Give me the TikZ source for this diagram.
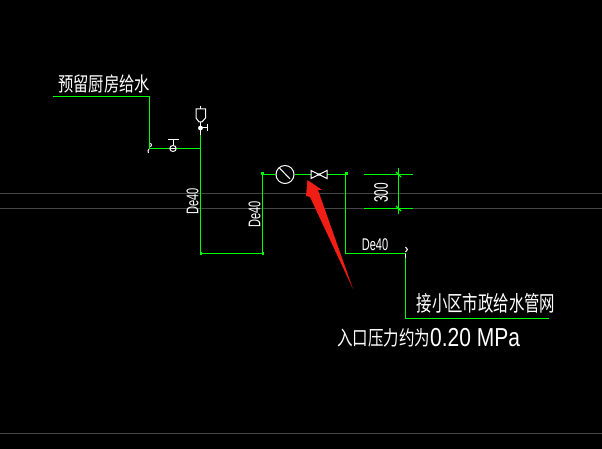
\documentclass[tikz,border=0pt]{standalone}
\usepackage{fontspec}
\usepackage{xcolor}
\setmainfont{Liberation Sans}
\newfontfamily\cjk{Noto Sans CJK SC}
\definecolor{pipe-green}{RGB}{0, 255, 0}
\definecolor{axis-grey}{RGB}{70, 70, 70}
\definecolor{mark-red}{RGB}{240, 30, 20}
\tikzset{
  pipe/.style={draw=pipe-green, line width=1.4pt},
  fitting/.style={draw=white, line width=1pt},
  cadtext/.style={text=white, inner sep=0pt, font=\cjk}
}

\begin{document}
\begin{tikzpicture}[x=1pt, y=-1pt]
\useasboundingbox (0,0) rectangle (602,449);
\fill[black] (0,0) rectangle (602,449);
% axis lines
\draw[axis-grey, line width=1pt] (0,193.5) -- (602,193.5);
\draw[axis-grey, line width=1pt] (0,208.5) -- (602,208.5);
\draw[axis-grey, line width=1pt] (0,433.5) -- (602,433.5);
% pipe corners
\coordinate (kitchen-start) at (53,96.5);
\coordinate (kitchen-corner) at (149.5,96.5);
\coordinate (kitchen-low) at (149.5,148.5);
\coordinate (riser-top) at (200.5,135);
\coordinate (riser-tee) at (200.5,148.5);
\coordinate (riser-low) at (200.5,253.5);
\coordinate (loop-low) at (262.5,253.5);
\coordinate (loop-top) at (262.5,174.5);
\coordinate (drop-top) at (345.5,174.5);
\coordinate (drop-low) at (345.5,253.5);
\coordinate (main-corner) at (405.5,253.5);
\coordinate (main-low) at (405.5,318.5);
\coordinate (main-end) at (549,318.5);
% gauge and valve
\node[circle, fitting, minimum size=18pt, inner sep=0pt] (gauge) at (285,174.5) {};
\node[inner sep=0pt, minimum size=8pt] (valve) at (319,174.5) {};
\draw[pipe] (kitchen-start) -- (kitchen-corner) -- (kitchen-low) -- (riser-tee);
\draw[pipe] (riser-top) -- (riser-low) -- (loop-low) -- (loop-top) -- (gauge);
\draw[pipe] (gauge) -- (311,174.5);
\draw[pipe] (327,174.5) -- (drop-top) -- (drop-low) -- (main-corner) -- (main-low) -- (main-end);
\fill[pipe-green] (261,172) rectangle (263.5,175);
\fill[pipe-green] (345,172.5) rectangle (347.5,175);
\fill[pipe-green] (199.5,252) rectangle (201.5,254.5);
\fill[pipe-green] (261.5,252) rectangle (263.5,254.5);
\draw[fitting] (279,167.5) -- (290,179);
\draw[fitting] (311,170.5) -- (327,178.5) -- (327,170.5) -- (311,178.5) -- cycle;
\fill[white] (319,174.5) circle (1.3pt);
% branch valve
\draw[fitting] (173,148.5) ellipse (3.2pt and 3pt);
\draw[fitting] (170,148.5) -- (176,148.5);
\draw[fitting] (173,145) -- (173,140);
\draw[fitting] (168,140) -- (179,140);
% funnel and tap
\draw[fitting] (200.5,106) -- (200.5,109);
\draw[fitting] (196,109) -- (205.5,109) -- (205.5,118) -- (202,122) -- (199,122) -- (196,118) -- cycle;
\draw[fitting] (200.5,122) -- (200.5,135);
\fill[white] (200.5,128) circle (2.4pt);
\draw[fitting] (200.5,128) -- (207,128);
\draw[fitting] (207,124.5) -- (207,131);
% break marks
\draw[fitting] (150.5,143) -- (151.5,145) -- (150.5,147);
\draw[fitting] (149,149) -- (148,151) -- (148.5,153);
\draw[fitting] (405.5,247) -- (407.5,249.5) -- (405.5,252);
\draw[fitting] (405,254) -- (405,258);
% dimension
\draw[pipe] (364,174.5) -- (413,174.5);
\draw[pipe] (364,208.5) -- (413,208.5);
\draw[pipe] (398.5,168) -- (398.5,214);
\draw[pipe] (396,172) -- (401,177);
\draw[pipe] (396,206) -- (401,211);
% labels
\node[cadtext, anchor=center, yscale=1.3, font=\cjk\fontsize{15.3}{15.3}\selectfont] (kitchen-label) at (104,84) {预留厨房给水};
\node[cadtext, anchor=center, rotate=90, xscale=0.85, yscale=1.3, font=\fontsize{13}{13}\selectfont] (riser-label) at (192.5,201.5) {De40};
\node[cadtext, anchor=center, rotate=90, xscale=0.85, yscale=1.3, font=\fontsize{13}{13}\selectfont] (loop-label) at (254.5,214.5) {De40};
\node[cadtext, anchor=center, xscale=0.85, yscale=1.3, font=\fontsize{13}{13}\selectfont] (main-label) at (375,245) {De40};
\node[cadtext, anchor=center, rotate=90, xscale=0.85, yscale=1.4, font=\fontsize{14}{14}\selectfont] (dim-label) at (381,193) {300};
\node[cadtext, anchor=center, yscale=1.4, font=\cjk\fontsize{15.4}{15.4}\selectfont] (city-label) at (486,303) {接小区市政给水管网};
\node[cadtext, anchor=west, yscale=1.3, font=\cjk\fontsize{15.5}{15.5}\selectfont] (note-label) at (337,338) {入口压力约为};
\node[cadtext, anchor=west, xscale=1.05, yscale=1.3, font=\fontsize{20}{20}\selectfont] (note-value) at (430,338) {0.20 MPa};
% red arrow
\fill[mark-red] (307.5,180) -- (322,190) -- (318,190) -- (353,289) -- (310,197) -- (306,196) -- cycle;
\end{tikzpicture}
\end{document}
